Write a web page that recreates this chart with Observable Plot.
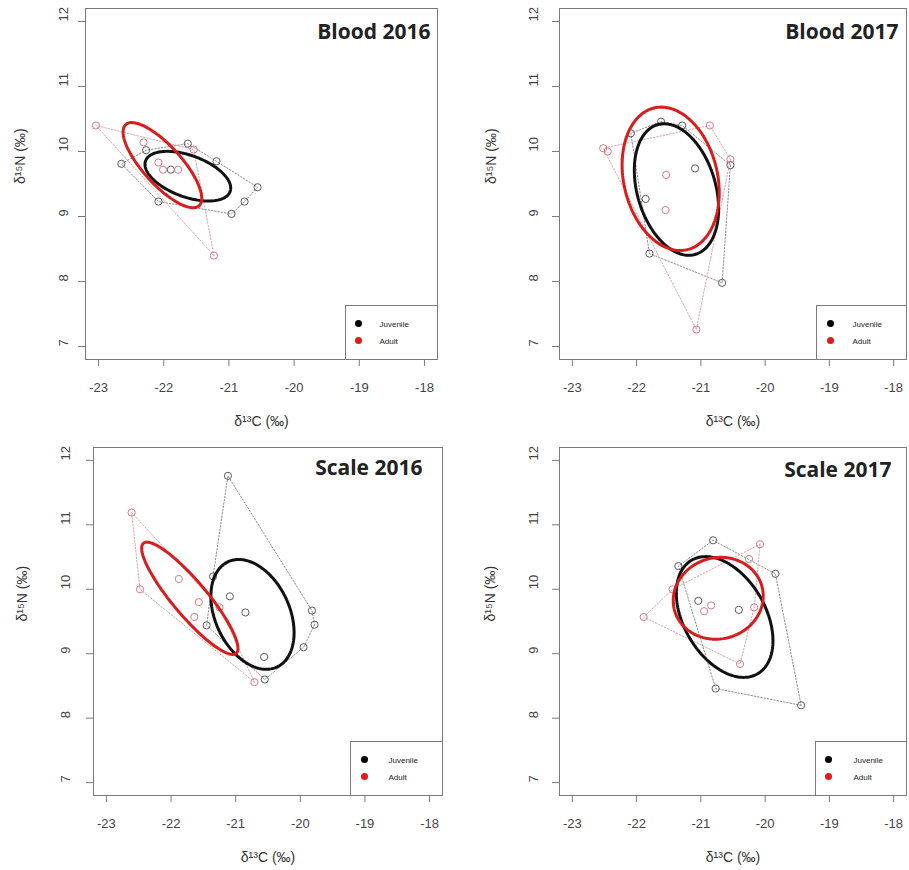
<!DOCTYPE html>
<html><head><meta charset="utf-8">
<script src="https://cdn.jsdelivr.net/npm/d3@7"></script>
<script src="https://cdn.jsdelivr.net/npm/@observablehq/plot@0.6"></script>
<style>
body{margin:0;background:#fff;}
#wrap{position:relative;width:909px;height:870px;overflow:hidden;background:#fff;}
.panel{position:absolute;}
</style></head><body><div id="wrap"></div>
<script>
// ---- tick labels, groups, titles ----
const xTicks = [-23, -22, -21, -20, -19, -18];
const yTicks = [7, 8, 9, 10, 11, 12];
const groups = ["Juvenile", "Adult"];
const titles = ["Blood 2016", "Blood 2017", "Scale 2016", "Scale 2017"];
const xLabel = "δ¹³C (‰)";
const yLabel = "δ¹⁵N (‰)";

// ---- Blood 2016 ----
const blood2016JuvC = [-22.27, -21.63, -21.19, -22.65, -21.89, -20.56, -20.76, -20.96, -22.08];
const blood2016JuvN = [10.02, 10.12, 9.85, 9.81, 9.72, 9.45, 9.23, 9.04, 9.23];
const blood2016AdC = [-23.04, -22.31, -21.54, -22.08, -22.01, -21.78, -21.23];
const blood2016AdN = [10.40, 10.14, 10.03, 9.83, 9.72, 9.72, 8.40];
// ---- Blood 2017 ----
const blood2017JuvC = [-22.09, -21.62, -21.29, -20.54, -21.09, -21.86, -21.80, -20.67];
const blood2017JuvN = [10.28, 10.46, 10.40, 9.79, 9.74, 9.27, 8.43, 7.98];
const blood2017AdC = [-22.52, -22.45, -20.86, -20.54, -21.54, -21.55, -21.07];
const blood2017AdN = [10.05, 10.00, 10.40, 9.88, 9.64, 9.10, 7.26];
// ---- Scale 2016 ----
const scale2016JuvC = [-21.12, -21.35, -21.45, -21.09, -20.85, -20.56, -20.55, -19.82, -19.78, -19.95];
const scale2016JuvN = [11.76, 10.20, 9.44, 9.89, 9.64, 8.95, 8.60, 9.67, 9.45, 9.10];
const scale2016AdC = [-22.61, -22.48, -21.88, -21.57, -21.64, -21.25, -20.71];
const scale2016AdN = [11.19, 10.00, 10.16, 9.80, 9.57, 9.72, 8.56];
// ---- Scale 2017 ----
const scale2017JuvC = [-20.81, -19.84, -21.35, -21.04, -20.41, -20.77, -19.44];
const scale2017JuvN = [10.76, 10.24, 10.36, 9.82, 9.68, 8.46, 8.20];
const scale2017AdC = [-20.08, -20.25, -21.44, -20.84, -20.95, -20.17, -21.89, -20.39];
const scale2017AdN = [10.70, 10.47, 10.00, 9.75, 9.66, 9.72, 9.57, 8.84];

// ---- standard ellipses (centre, semi-axes, angle in degrees), per panel ----
const juvEllipseCx = [-21.63, -21.38, -20.74, -20.63];
const juvEllipseCy = [9.62, 9.415, 9.61, 9.57];
const juvEllipseA = [0.69, 1.04, 0.90, 1.02];
const juvEllipseB = [0.32, 0.61, 0.575, 0.635];
const juvEllipseAngle = [-20, -73.4, -65.3, -59.7];
const adEllipseCx = [-22.02, -21.47, -21.71, -20.73];
const adEllipseCy = [9.79, 9.58, 9.86, 9.86];
const adEllipseA = [0.84, 1.12, 1.115, 0.705];
const adEllipseB = [0.295, 0.73, 0.265, 0.63];
const adEllipseAngle = [-48, -76.7, -50, 15];

const juvC = [blood2016JuvC, blood2017JuvC, scale2016JuvC, scale2017JuvC];
const juvN = [blood2016JuvN, blood2017JuvN, scale2016JuvN, scale2017JuvN];
const adC = [blood2016AdC, blood2017AdC, scale2016AdC, scale2017AdC];
const adN = [blood2016AdN, blood2017AdN, scale2016AdN, scale2017AdN];

// ---- layout (pixels) ----
const panelLeft = [0, 459, 0, 459];
const panelTop = [0, 0, 435, 435];
const mLeft = [85, 100, 93, 100];
const mRight = [13, 3, 8, 3];
const mTop = [8, 8, 12, 12];
const mBottom = [76, 76, 75, 75];
const yTickDx = [-22, -26, -28, -26];
const yLabDx = [-65, -68, -71, -69];
const titleInset = [7, 8, 20, 15];
const titleDy = [24, 24, 21, 23];
const legW = [92, 90, 92, 91];
const legDotX = [13, 14, 14, 13];
const legTextX = [21, 22, 24, 25];
const PW = 450, PH = 435, LH = 54;

const juvCol = "#5c5c5c", adCol = "#d97985";
const juvEll = "#111111", adEll = "#d91c1c";

function toPts(C, N) { return C.map((c, i) => ({x: c, y: N[i]})); }
function hull(C, N) {
  const h = d3.polygonHull(C.map((c, i) => [c, N[i]]));
  h.push(h[0]);
  return h.map(([x, y]) => ({x, y}));
}
function ellipse(cx, cy, a, b, ang) {
  const th = ang * Math.PI / 180, out = [];
  for (let k = 0; k <= 160; k++) {
    const t = 2 * Math.PI * k / 160;
    out.push({
      x: cx + a * Math.cos(t) * Math.cos(th) - b * Math.sin(t) * Math.sin(th),
      y: cy + a * Math.cos(t) * Math.sin(th) + b * Math.sin(t) * Math.cos(th)
    });
  }
  return out;
}

const wrap = document.getElementById("wrap");
for (let i = 0; i < 4; i++) {
  const fw = PW - mLeft[i] - mRight[i], fh = PH - mTop[i] - mBottom[i];
  const chart = Plot.plot({
    width: PW, height: PH,
    marginLeft: mLeft[i], marginRight: mRight[i], marginTop: mTop[i], marginBottom: mBottom[i],
    x: {domain: [-23.2, -17.8]},
    y: {domain: [6.8, 12.2]},
    style: {fontFamily: "'Liberation Sans', Arial, sans-serif", background: "transparent", overflow: "visible"},
    marks: [
      Plot.line(hull(juvC[i], juvN[i]), {x: "x", y: "y", stroke: "#8c8c8c", strokeWidth: 1, strokeDasharray: "1.5,1.8"}),
      Plot.line(hull(adC[i], adN[i]), {x: "x", y: "y", stroke: "#d9a3aa", strokeWidth: 1, strokeDasharray: "1.5,1.8"}),
      Plot.dot(toPts(juvC[i], juvN[i]), {x: "x", y: "y", r: 3.6, stroke: juvCol, strokeWidth: 1, fill: "none"}),
      Plot.dot(toPts(adC[i], adN[i]), {x: "x", y: "y", r: 3.6, stroke: adCol, strokeWidth: 1, fill: "none"}),
      Plot.line(ellipse(juvEllipseCx[i], juvEllipseCy[i], juvEllipseA[i], juvEllipseB[i], juvEllipseAngle[i]), {x: "x", y: "y", stroke: juvEll, strokeWidth: 3}),
      Plot.line(ellipse(adEllipseCx[i], adEllipseCy[i], adEllipseA[i], adEllipseB[i], adEllipseAngle[i]), {x: "x", y: "y", stroke: adEll, strokeWidth: 3}),
      Plot.frame({stroke: "#7a7a7a", strokeWidth: 1}),
      Plot.axisX({ticks: xTicks, tickSize: 7, tickFormat: () => "", stroke: "#7a7a7a", label: null}),
      Plot.axisY({ticks: yTicks, tickSize: 7, tickFormat: () => "", stroke: "#7a7a7a", label: null}),
      Plot.text(xTicks, {x: d => d, frameAnchor: "bottom", dy: 28, text: d => String(d), fontSize: 13, fill: "#444", lineAnchor: "middle"}),
      Plot.text(yTicks, {y: d => d, frameAnchor: "left", dx: yTickDx[i], rotate: -90, text: d => String(d), fontSize: 13, fill: "#444", lineAnchor: "middle"}),
      Plot.text([xLabel], {frameAnchor: "bottom", dy: 62, text: d => d, fontSize: 14, fill: "#333", lineAnchor: "middle"}),
      Plot.text([yLabel], {frameAnchor: "left", dx: yLabDx[i], rotate: -90, text: d => d, fontSize: 14, fill: "#333", lineAnchor: "middle"}),
      Plot.text([titles[i]], {frameAnchor: "top-right", dx: -titleInset[i], dy: titleDy[i], text: d => d, textAnchor: "end", lineAnchor: "middle", fontSize: 21, fontWeight: 700, fontFamily: "'Open Sans', sans-serif", fill: "#222"}),
      // legend
      Plot.frame({stroke: "#7a7a7a", strokeWidth: 1, fill: "white", insetLeft: fw - legW[i], insetTop: fh - LH}),
      Plot.dot([groups[0]], {frameAnchor: "bottom-right", dx: -(legW[i] - legDotX[i]), dy: -(LH - 18), r: 3.5, fill: "#000"}),
      Plot.dot([groups[1]], {frameAnchor: "bottom-right", dx: -(legW[i] - legDotX[i]), dy: -(LH - 35), r: 3.5, fill: "#e01b1b"}),
      Plot.text([groups[0]], {frameAnchor: "bottom-right", dx: -(legW[i] - legDotX[i] - legTextX[i]), dy: -(LH - 19), text: d => d, textAnchor: "start", lineAnchor: "middle", fontSize: 8, fill: "#222"}),
      Plot.text([groups[1]], {frameAnchor: "bottom-right", dx: -(legW[i] - legDotX[i] - legTextX[i]), dy: -(LH - 36), text: d => d, textAnchor: "start", lineAnchor: "middle", fontSize: 8, fill: "#222"})
    ]
  });
  chart.classList.add("panel");
  chart.style.left = panelLeft[i] + "px";
  chart.style.top = panelTop[i] + "px";
  wrap.appendChild(chart);
}
</script>
</body></html>
